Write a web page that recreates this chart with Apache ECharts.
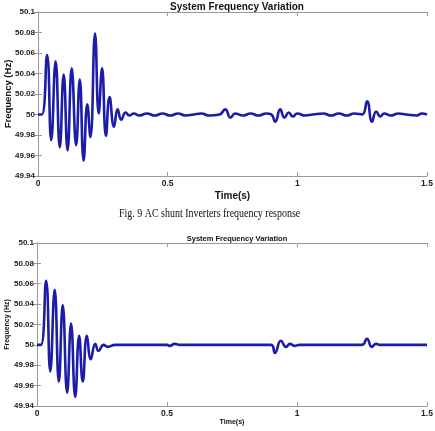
<!DOCTYPE html>
<html>
<head>
<meta charset="utf-8">
<script src="https://cdn.jsdelivr.net/npm/echarts@6/dist/echarts.min.js"></script>
<style>
html,body{margin:0;padding:0;background:#fff;}
#c{width:435px;height:431px;}
</style>
</head>
<body>
<div id="c"></div>
<script>
// Chart titles and labels
var chartTitle = "System Frequency Variation";
var caption = "Fig. 9 AC shunt Inverters frequency response";
var xName = "Time(s)";
var yName = "Frequency (Hz)";
var xTicks = [0, 0.5, 1, 1.5];
var yTicks = [49.94, 49.96, 49.98, 50, 50.02, 50.04, 50.06, 50.08, 50.1];

// Top chart: time (s) and frequency (Hz) at extrema
var t1 = [0,0.015,0.035,0.051,0.068,0.084,0.099,0.114,0.130,0.147,0.161,0.176,0.190,0.202,0.220,0.234,0.247,0.262,0.276,0.293,0.307,0.321,0.338,0.352,0.37,0.39,0.42,0.45,0.48,0.51,0.54,0.57,0.60,0.63,0.66,0.70,0.722,0.742,0.76,0.79,0.82,0.85,0.88,0.90,0.915,0.934,0.950,0.967,0.982,1.0,1.03,1.06,1.10,1.13,1.16,1.19,1.22,1.25,1.269,1.288,1.304,1.320,1.335,1.36,1.39,1.42,1.46,1.48,1.5];
var f1 = [50,50,50.058,49.975,50.052,49.968,50.039,49.965,50.045,49.970,50.034,49.955,50.010,49.978,50.079,50.001,50.045,49.979,50.017,49.988,50.005,49.995,50.002,49.999,50.001,49.999,50.001,49.999,50.001,49.999,50.001,49.999,50.000,50.001,49.999,50.000,50.005,49.997,50.001,49.999,50.001,49.999,50.001,50.000,49.993,50.005,49.997,50.002,49.998,50.001,49.999,50.000,50.001,49.999,50.001,49.999,50.001,50.000,50.013,49.993,50.003,49.998,50.001,49.999,50.001,50.000,49.999,50.001,50.000];

// Bottom chart
var t2 = [0,0.015,0.035,0.051,0.068,0.084,0.099,0.116,0.131,0.147,0.162,0.176,0.192,0.207,0.224,0.237,0.256,0.272,0.30,0.50,0.51,0.53,0.55,0.90,0.915,0.938,0.958,0.973,0.99,1.01,1.25,1.269,1.288,1.304,1.32,1.5];
var f2 = [50,50,50.063,49.974,50.054,49.964,50.039,49.953,50.021,49.949,50.009,49.964,50.009,49.986,50.001,49.994,50.000,49.998,50.000,50.000,49.999,50.001,50.000,50.000,49.992,50.004,49.998,50.001,49.999,50.000,50.000,50.006,49.998,50.001,50.000,50];

function pairs(t, f){ return t.map(function(v,i){ return [v, f[i]]; }); }

var font = '"Liberation Sans", Arial, sans-serif';
var axisColor = '#9a9a9a';
var lineColor = '#1c1ca8';

function xAx(gi, nameSize, nameGap){
  return {
    type:'value', gridIndex:gi, min:0, max:1.5, interval:0.5,
    name:xName, nameLocation:'middle', nameGap:nameGap, nameMoveOverlap:false,
    nameTextStyle:{fontFamily:font, fontWeight:'bold', fontSize:nameSize, color:'#111'},
    axisLine:{lineStyle:{color:axisColor, width:1}},
    axisTick:{inside:true, length:4, lineStyle:{color:axisColor}},
    axisLabel:{fontFamily:font, fontWeight:'bold', fontSize:8.5, color:'#222', margin:3,
      formatter:function(v){ return String(v); }},
    splitLine:{show:false}
  };
}
function xAxTop(gi){
  return {
    type:'value', gridIndex:gi, position:'top', min:0, max:1.5, interval:0.5,
    axisLine:{lineStyle:{color:axisColor, width:1}},
    axisTick:{inside:true, length:4, lineStyle:{color:axisColor}},
    axisLabel:{show:false}, splitLine:{show:false}
  };
}
function yAx(gi, nameSize, nameGap){
  return {
    type:'value', gridIndex:gi, min:49.94, max:50.1, interval:0.02,
    name:yName, nameLocation:'middle', nameGap:nameGap, nameMoveOverlap:false,
    nameTextStyle:{fontFamily:font, fontWeight:'bold', fontSize:nameSize, color:'#111'},
    axisLine:{show:true, lineStyle:{color:axisColor, width:1}},
    axisTick:{show:true, inside:true, length:4, lineStyle:{color:axisColor}},
    axisLabel:{fontFamily:font, fontWeight:'bold', fontSize:8, color:'#222', margin:3,
      formatter:function(v){ return String(+v.toFixed(2)); }},
    splitLine:{show:false}
  };
}
function yAxRight(gi){
  return {
    type:'value', gridIndex:gi, position:'right', min:49.94, max:50.1, interval:0.02,
    axisLine:{show:true, lineStyle:{color:axisColor, width:1}},
    axisTick:{show:true, inside:true, length:4, lineStyle:{color:axisColor}},
    axisLabel:{show:false}, splitLine:{show:false}
  };
}

var chart = echarts.init(document.getElementById('c'), null, {renderer:'canvas'});
chart.setOption({
  animation:false,
  backgroundColor:'#fff',
  title:[
    {text:chartTitle, left:232, textAlign:'center', top:-3,
     textStyle:{fontFamily:font, fontWeight:'bold', fontSize:10, color:'#111'}},
    {text:chartTitle, left:232, textAlign:'center', top:230,
     textStyle:{fontFamily:font, fontWeight:'bold', fontSize:7.5, color:'#111'}}
  ],
  graphic:[{
    type:'text', left:119, top:208, scaleX:0.83,
    style:{text:caption, fontFamily:'"Liberation Serif", "Times New Roman", serif', fontSize:12, fill:'#111'}
  }],
  grid:[
    {left:38, top:12, width:389, height:164, containLabel:false, outerBoundsMode:'none'},
    {left:37, top:243, width:390, height:163, containLabel:false, outerBoundsMode:'none'}
  ],
  xAxis:[xAx(0,10,15), xAxTop(0), xAx(1,7,13), xAxTop(1)],
  yAxis:[yAx(0,9.5,25), yAxRight(0), yAx(1,7,26), yAxRight(1)],
  series:[
    {type:'line', xAxisIndex:0, yAxisIndex:0, data:pairs(t1,f1), smooth:0.5,
     showSymbol:false, lineStyle:{color:lineColor, width:2.6}},
    {type:'line', xAxisIndex:2, yAxisIndex:2, data:pairs(t2,f2), smooth:0.5,
     showSymbol:false, lineStyle:{color:lineColor, width:2.6}}
  ]
});
</script>
</body>
</html>
